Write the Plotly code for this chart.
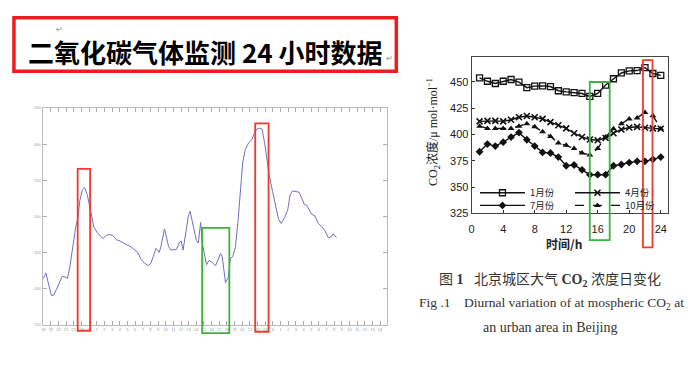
import plotly.graph_objects as go

W, H = 700, 367

# ---------------- Left chart: 24h CO2 monitoring trace ----------------
left_x = [18.00, 18.35, 18.65, 19.08, 19.39, 19.73, 20.16, 20.51, 20.81, 21.16,
          21.46, 21.81, 22.24, 22.55, 22.76, 23.11, 23.41, 23.76, 24.06, 24.36,
          24.62, 25.01, 25.45, 25.79, 26.23, 26.57, 27.09, 27.52, 28.04, 28.39,
          28.82, 29.34, 29.90, 30.34, 30.77, 31.20, 31.77, 32.07, 32.37, 32.72,
          32.94, 33.15, 33.37, 33.58, 33.84, 34.10, 34.36, 34.67, 35.10, 35.40,
          35.75, 36.01, 36.27, 36.48, 36.74, 36.96, 37.18, 37.39, 37.70, 38.00,
          38.26, 38.48, 38.56, 38.78, 39.13, 39.34, 39.65, 40.08, 40.51, 40.81,
          41.16, 41.38, 41.59, 41.81, 42.16, 42.46, 42.76, 43.11, 43.45, 43.76,
          44.06, 44.41, 44.84, 45.27, 45.58, 45.92, 46.23, 46.57, 46.92, 47.22,
          47.52, 47.96, 48.39, 48.74, 49.08, 49.52, 49.95, 50.25, 50.55, 50.99,
          51.42, 51.77, 52.11, 52.42, 52.72, 53.06, 53.50, 53.93, 54.36, 54.80,
          55.23, 55.58, 55.88, 56.31]
left_y = [413.9, 422.0, 408.5, 390.5, 391.4, 399.5, 410.8, 417.5, 416.6, 414.4,
          428.8, 453.5, 485.0, 498.5, 521.0, 536.8, 539.9, 530.0, 514.3, 496.3,
          485.0, 478.3, 473.8, 469.3, 473.8, 475.1, 473.8, 467.9, 466.1, 463.4,
          461.2, 458.9, 454.4, 450.4, 440.9, 435.5, 431.9, 435.5, 444.5, 455.8,
          453.5, 450.4, 458.0, 469.3, 482.8, 471.5, 458.9, 453.5, 453.5, 454.4,
          463.4, 466.1, 453.5, 467.0, 485.0, 500.8, 507.5, 496.3, 480.5, 467.0,
          463.4, 485.0, 491.8, 462.5, 444.5, 433.3, 439.1, 436.4, 431.9, 440.0,
          449.0, 444.5, 424.3, 408.5, 415.3, 442.3, 444.5, 458.0, 494.0, 539.0,
          575.0, 593.0, 602.0, 606.5, 615.5, 620.9, 622.3, 620.9, 602.0, 579.5,
          557.0, 534.5, 512.0, 496.3, 490.4, 498.5, 509.8, 530.0, 535.4, 534.5,
          533.6, 525.5, 516.5, 515.6, 509.8, 503.0, 500.8, 490.4, 485.9, 480.5,
          470.6, 471.5, 476.0, 470.6]
left_hour_ticks = list(range(18, 64))
left_hour_labels = [str(h % 24) for h in left_hour_ticks]
left_y_ticks = [350, 400, 450, 500, 550, 600, 650]

# ---------------- Right chart: diurnal variation by month ----------------
hours = list(range(1, 25))
jan = [453.8, 450.6, 448.5, 450.6, 452.3, 449.8, 444.5, 446.0, 446.2, 445.6,
       441.6, 440.5, 439.8, 439.0, 436.2, 439.0, 447.0, 453.0, 458.5, 460.5,
       460.8, 463.5, 458.0, 456.2]
apr = [412.5, 413.0, 413.0, 412.5, 414.0, 416.4, 417.6, 416.4, 414.8, 411.8,
       408.8, 405.8, 401.2, 397.6, 395.2, 394.5, 396.7, 401.2, 404.8, 406.7,
       407.3, 406.4, 405.8, 405.5]
jul = [383.6, 390.9, 389.0, 392.7, 397.6, 401.8, 395.0, 389.0, 383.0, 382.4,
       378.5, 370.3, 371.0, 366.4, 361.8, 361.8, 361.8, 370.3, 371.5, 373.3,
       374.5, 374.5, 376.4, 378.5]
octo = [407.9, 405.8, 405.8, 405.8, 405.8, 407.9, 410.3, 407.3, 402.7, 398.2,
        392.0, 389.7, 386.7, 382.4, 380.6, 386.7, 397.6, 405.5, 410.3, 414.8,
        415.8, 420.9, 417.9, 405.5]
series_names = ["1月份", "4月份", "7月份", "10月份"]
right_x_ticks = [0, 4, 8, 12, 16, 20, 24]
right_y_ticks = [325, 350, 375, 400, 425, 450]


def px(x):
    return x / W


def py(y):
    return 1 - y / H


fig = go.Figure()

fig.add_trace(go.Scatter(x=left_x, y=left_y, mode="lines", xaxis="x", yaxis="y",
                         line=dict(color="#6f6fc4", width=1), showlegend=False,
                         hoverinfo="skip"))

styles = [
    (jan, dict(symbol="square-open", size=6, color="#111", line=dict(width=1.3, color="#111")), "solid", "legend"),
    (apr, dict(symbol="x-thin-open", size=6, color="#111", line=dict(width=1.6, color="#111")), "solid", "legend"),
    (jul, dict(symbol="diamond", size=6, color="#111"), "solid", "legend2"),
    (octo, dict(symbol="triangle-up", size=6, color="#111"), "dash", "legend2"),
]
for name, (vals, mk, dash, lg) in zip(series_names, styles):
    fig.add_trace(go.Scatter(x=hours, y=vals, mode="lines+markers", name=name,
                             xaxis="x2", yaxis="y2", legend=lg,
                             line=dict(color="#111", width=1.4, dash=dash),
                             marker=mk))

tiny = dict(size=4, color="#999", family="Liberation Sans")
legend_font = dict(size=9.5, color="#222", family="Noto Sans CJK SC")
fig.update_layout(
    width=W, height=H, margin=dict(l=0, r=0, t=0, b=0),
    paper_bgcolor="white", plot_bgcolor="white",
    font=dict(family="Noto Sans CJK SC", color="#222"),
    xaxis=dict(domain=[px(40), px(386)], range=[17.95, 62.95],
               tickvals=left_hour_ticks, ticktext=left_hour_labels,
               ticks="inside", ticklen=4, tickcolor="#aaa", tickfont=tiny,
               showline=True, linecolor="#bbb", linewidth=1, mirror="ticks",
               showgrid=False, zeroline=False, anchor="y"),
    yaxis=dict(domain=[py(330), py(107.7)], range=[350, 650],
               tickvals=left_y_ticks, ticks="inside", ticklen=4, tickcolor="#aaa",
               tickfont=tiny, showline=True, linecolor="#bbb", linewidth=1,
               mirror="ticks", showgrid=False, zeroline=False, anchor="x"),
    xaxis2=dict(domain=[px(470.7), px(667.7)], range=[0, 24.9],
                tickvals=right_x_ticks, ticks="inside", ticklen=3,
                tickcolor="#333", ticklabelstandoff=5,
                tickfont=dict(size=11, color="#222", family="Liberation Sans"),
                showline=True, linecolor="#444", linewidth=1, mirror=True,
                showgrid=False, zeroline=False, anchor="y2"),
    yaxis2=dict(domain=[py(215.7), py(55)], range=[325, 474],
                tickvals=right_y_ticks, ticks="inside", ticklen=3,
                tickcolor="#333",
                tickfont=dict(size=11, color="#222", family="Liberation Sans"),
                showline=True, linecolor="#444", linewidth=1, mirror=True,
                showgrid=False, zeroline=False, anchor="x2"),
    legend=dict(orientation="h", x=px(474), y=py(194.5), xanchor="left",
                yanchor="middle", bgcolor="rgba(0,0,0,0)", entrywidth=35,
                entrywidthmode="pixels", itemwidth=45, font=legend_font),
    legend2=dict(orientation="h", x=px(474), y=py(207.5), xanchor="left",
                 yanchor="middle", bgcolor="rgba(0,0,0,0)", entrywidth=35,
                 entrywidthmode="pixels", itemwidth=45, font=legend_font),
)

shapes = []
# title frame
shapes.append(dict(type="rect", xref="paper", yref="paper",
                   x0=px(11), x1=px(395), y0=py(15), y1=py(70),
                   line=dict(color="#ee1c1c", width=3.5)))
# highlight boxes
for (x0, x1, y0, y1, c) in [(75, 87.5, 170, 336, "#ee3b2f"),
                            (200, 227.3, 230.5, 338.5, "#3db33d"),
                            (253.3, 266.7, 123.5, 337, "#ee3b2f"),
                            (589.3, 609.3, 81, 243, "#3db33d"),
                            (642.7, 652.3, 58.5, 250.5, "#ee3b2f")]:
    shapes.append(dict(type="rect", xref="paper", yref="paper",
                       x0=px(x0), x1=px(x1), y0=py(y0), y1=py(y1),
                       line=dict(color=c, width=1.8)))
fig.update_layout(shapes=shapes)

ann = []
ann.append(dict(text="<b>二氧化碳气体监测 24 小时数据</b>", x=px(203), y=py(49.5),
                font=dict(size=26, color="#000", family="Noto Sans CJK SC")))
ann.append(dict(text="↵", x=px(57), y=py(26), font=dict(size=8, color="#888")))
ann.append(dict(text="↵", x=px(388), y=py(56), font=dict(size=8, color="#888")))
ann.append(dict(text="CO<sub>2</sub>浓度/μ mol·mol<sup>−1</sup>", x=px(433), y=py(132),
                textangle=-90,
                font=dict(size=12, color="#222", family="Liberation Serif, Noto Sans CJK SC")))
ann.append(dict(text="<b>时间/h</b>", x=px(563), y=py(246.5),
                font=dict(size=12, color="#222", family="Noto Sans CJK SC")))
ann.append(dict(text="图 <b>1</b>   北京城区大气 <b>CO<sub>2</sub></b> 浓度日变化", x=px(549), y=py(284),
                font=dict(size=14, color="#333", family="Liberation Serif, Noto Sans CJK SC")))
ann.append(dict(text="Fig .1    Diurnal variation of at mospheric CO<sub>2</sub> at", x=px(551), y=py(308),
                font=dict(size=13.5, color="#333", family="Liberation Serif")))
ann.append(dict(text="an urban area in Beijing", x=px(550), y=py(333),
                font=dict(size=14, color="#333", family="Liberation Serif")))
for a in ann:
    a.update(xref="paper", yref="paper", showarrow=False, xanchor="center", yanchor="middle")
fig.update_layout(annotations=ann)

fig.write_html("out.html", config={"displayModeBar": False},
               post_script="document.body.style.margin='0px';document.body.style.overflow='hidden';")
